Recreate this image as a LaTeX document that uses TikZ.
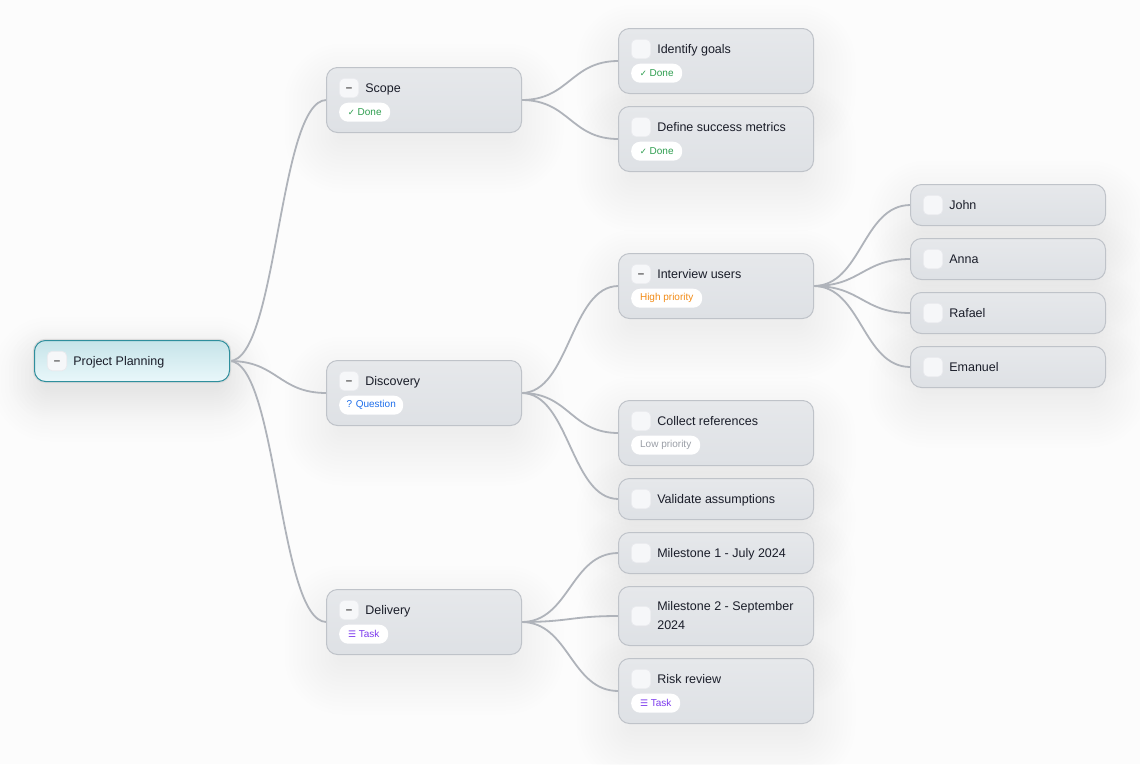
\documentclass[tikz,border=0pt]{standalone}
\usepackage{fontspec}
\usepackage{xcolor}
\setmainfont{Liberation Sans}
\newfontfamily\symfont{DejaVu Sans}
\usetikzlibrary{positioning,calc}
\definecolor{cardtop}{HTML}{E6E8EB}
\definecolor{cardbot}{HTML}{DEE1E5}
\definecolor{cardline}{HTML}{BFC3C9}
\definecolor{linkgray}{HTML}{AFB3BA}
\definecolor{inkdark}{HTML}{1A1D29}
\definecolor{boxfill}{HTML}{F6F7F9}
\definecolor{boxline}{HTML}{E9EAEE}
\definecolor{doneg}{HTML}{2E9E4F}
\definecolor{askb}{HTML}{1F6FEB}
\definecolor{highp}{HTML}{F28C18}
\definecolor{lowp}{HTML}{9A9EA6}
\definecolor{taskp}{HTML}{7C3AED}
\definecolor{rootTop}{HTML}{C6E4E9}
\definecolor{rootBot}{HTML}{E9F7FA}
\definecolor{rootline}{HTML}{2F8F9D}
\pgfdeclarelayer{shadow}
\pgfdeclarelayer{links}
\pgfsetlayers{shadow,links,main}
\tikzset{
  cardbox/.style={draw=cardline, line width=1pt, rounded corners=11pt, top color=cardtop, bottom color=cardbot,
    minimum width=195pt, inner sep=0pt, outer sep=0pt, anchor=north west},
  rootbox/.style={cardbox, draw=rootline, top color=rootTop, bottom color=rootBot,
    preaction={draw=black!14, line width=3.4pt}},
  togglebox/.style={draw=boxline, fill=boxfill, rounded corners=5pt, minimum size=19.5pt, inner sep=0pt, line width=.7pt,
    text height=6.5pt, text depth=0pt, font=\fontsize{11.5}{11.5}\bfseries\selectfont, text=black!70},
  cardtext/.style={inner sep=0pt, text=inkdark, font=\fontsize{12.5}{19}\selectfont},
  pill/.style={fill=white, rounded corners=9pt, minimum height=19pt, inner sep=0pt,
    anchor=west, font=\fontsize{10}{11}\selectfont},
  link/.style={draw=linkgray, line width=1.8pt, line cap=round},
}
\begin{document}
\begin{tikzpicture}[x=1pt,y=-1pt]
  \begin{pgfonlayer}{shadow}
    \fill[white!99!black] (0,0) rectangle (1140,764);
  \end{pgfonlayer}
  \useasboundingbox (0,0) rectangle (1140,764);

  % cards
  \node[rootbox, minimum height=41pt] (root) at (34.5,340.5) {};
  \foreach \n/\x/\y/\h in {scope/326.5/67.5/65, discovery/326.5/360.5/65, delivery/326.5/589.5/65,
      goals/618.5/28.5/65, metrics/618.5/106.5/65, interview/618.5/253.5/65, references/618.5/400.5/65,
      assumptions/618.5/478.5/41, july/618.5/532.5/41, september/618.5/586.5/59, risk/618.5/658.5/65,
      john/910.5/184.5/41, anna/910.5/238.5/41, rafael/910.5/292.5/41, emanuel/910.5/346.5/41}
    \node[cardbox, minimum height=\h pt] (\n) at (\x,\y) {};

  % toggles and their texts
  \foreach \n/\sign/\txt in {root/--/Project Planning, scope/--/Scope, discovery/--/Discovery, delivery/--/Delivery,
      goals//Identify goals, metrics//Define success metrics, interview/--/Interview users,
      references//Collect references, assumptions//Validate assumptions, july//Milestone 1 - July 2024,
      risk//Risk review, john//John, anna//Anna, rafael//Rafael, emanuel//Emanuel}{
    \node[togglebox] (\n-box) at ($(\n.north west)+(22.5,20.5)$) {\sign};
    \node[cardtext, text height=11.5pt, text depth=2pt, right=6pt of \n-box] (\n-text) {\txt};
  }
  \node[togglebox] (september-box) at ($(september.west)+(22.5,0)$) {};
  \node[cardtext, align=left, right=6pt of september-box, yshift=.5pt] (september-text) {Milestone 2 - September\\2024};

  % tags
  \foreach \n/\w/\col/\txt in {scope/51/doneg/{{\symfont\fontsize{8.5}{9}\selectfont ✓} Done},
      goals/51/doneg/{{\symfont\fontsize{8.5}{9}\selectfont ✓} Done},
      metrics/51/doneg/{{\symfont\fontsize{8.5}{9}\selectfont ✓} Done},
      discovery/64/askb/{? Question},
      delivery/49/taskp/{{\symfont\fontsize{9}{9}\selectfont ☰} Task},
      risk/49/taskp/{{\symfont\fontsize{9}{9}\selectfont ☰} Task},
      interview/71/highp/{High priority},
      references/69/lowp/{Low priority}}
    \node[pill, minimum width=\w pt, text=\col] (\n-tag) at ($(\n.north west)+(12.5,44.7)$) {\txt};

  % connectors
  \begin{pgfonlayer}{links}
    \foreach \a/\b in {root/scope, root/discovery, root/delivery,
        scope/goals, scope/metrics, discovery/interview, discovery/references, discovery/assumptions,
        delivery/july, delivery/september, delivery/risk,
        interview/john, interview/anna, interview/rafael, interview/emanuel}
      \draw[link] (\a.east) .. controls +(48,0) and +(-48,0) .. (\b.west);
  \end{pgfonlayer}

  % soft shadows under the cards
  \begin{pgfonlayer}{shadow}
    \foreach \n in {root, scope, discovery, delivery, goals, metrics, interview, references,
        assumptions, july, september, risk, john, anna, rafael, emanuel}
      \foreach \g in {-10,-6,...,42}
        \fill[black, opacity=.0032, rounded corners=16pt+\g pt]
          ($(\n.north west)+(-\g,18-\g)$) rectangle ($(\n.south east)+(\g,18+\g)$);
    \foreach \g in {-2,2,...,26}
      \fill[black, opacity=.0035, rounded corners=16pt+\g pt]
        ($(root.north west)+(-\g,12-\g)$) rectangle ($(root.south east)+(\g,12+\g)$);
  \end{pgfonlayer}
\end{tikzpicture}
\end{document}
